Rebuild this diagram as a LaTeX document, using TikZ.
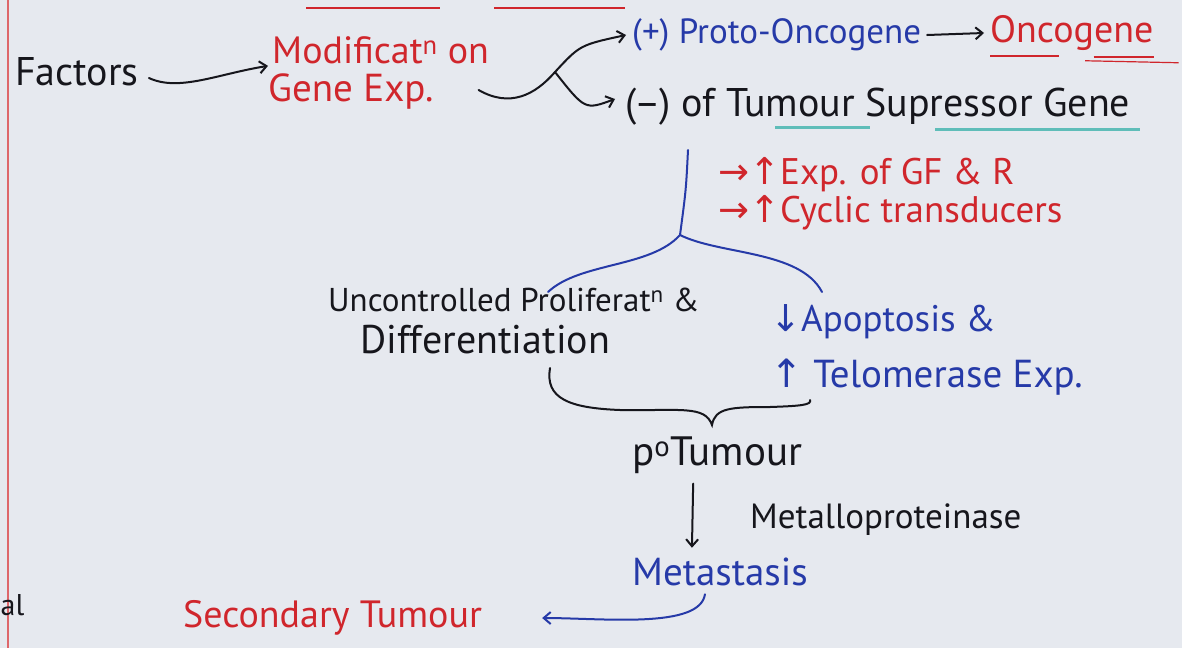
\documentclass[tikz,border=0pt]{standalone}
\usepackage{fontspec}
\setmainfont{PT Sans}
\newfontfamily\arrowfont{DejaVu Sans}
\usetikzlibrary{positioning,arrows.meta}

\definecolor{board}{RGB}{230,233,239}
\definecolor{penblue}{RGB}{38,58,168}
\definecolor{penred}{RGB}{208,38,44}
\definecolor{penblack}{RGB}{22,22,28}
\definecolor{penteal}{RGB}{62,178,172}

\tikzset{
  txt/.style={anchor=west, inner sep=0pt},
  fs/.style={font=\fontsize{#1}{#1}\selectfont},
  pen/.style={line width=2pt, line cap=round},
  tip/.style={-{Straight Barb[length=7pt,width=12pt]}},
}
\newcommand{\arr}[1]{{\arrowfont #1}}

\begin{document}
\begin{tikzpicture}[x=1pt,y=-1pt]

        % board and its edges
        \fill[board] (0,0) rectangle (1182,648);
        \useasboundingbox (0,0) rectangle (1182,648);
        \draw[penred!70, line width=1.5pt] (8,0) -- (8,648);
        \draw[penred, line width=1.5pt] (306,8) -- (440,8);
        \draw[penred, line width=1.5pt] (494,8) -- (625,8);

        % texts
        \node[txt, penblack, fs=40] (factors) at (15,72) {Factors};
        \node[txt, penred, fs=38] (modif) at (272,50) {Modificat\textsuperscript{n} on};
        \node[txt, penred, fs=39] (geneexp) at (268,92) {Gene Exp.};
        \node[txt, penblue, fs=35] (proto) at (632,35) {(+) Proto-Oncogene};
        \node[txt, penred, fs=38] (onco) at (990,33) {Oncogene};
        \node[txt, penblack, fs=40] (tsg) at (625,107) {(–) of Tumour Supressor Gene};
        \node[txt, penred, fs=37] (gfr) at (718,175) {\arr{→↑}Exp. of GF \& R};
        \node[txt, penred, fs=37] (cyclic) at (718,213) {\arr{→↑}Cyclic transducers};
        \node[txt, penblack, fs=33] (prolif) at (328,300) {Uncontrolled Proliferat\textsuperscript{n} \&};
        \node[txt, penblack, fs=40] (diff) at (360,340) {Differentiation};
        \node[txt, penblue, fs=37] (apop) at (770,322) {\arr{↓}Apoptosis \&};
        \node[txt, penblue, fs=39] (telo) at (770,377) {\arr{↑} Telomerase Exp.};
        \node[txt, penblack, fs=41] (ptum) at (632,455) {p\textsuperscript{o}Tumour};
        \node[txt, penblack, fs=35] (metallo) at (750,520) {Metalloproteinase};
        \node[txt, penblue, fs=39] (metas) at (632,572) {Metastasis};
        \node[txt, penred, fs=38] (sect) at (183,618) {Secondary Tumour};
        \node[txt, penblack, fs=30] (al) at (0.5,605) {al};

        % underlines
        \draw[penred, line width=2pt] ([yshift=-5pt]onco.south west) -- ([yshift=-5pt,xshift=-95pt]onco.south east);
        \draw[penred, line width=2pt] ([yshift=-6pt,xshift=-60pt]onco.south east) -- ([yshift=-6pt]onco.south east);
        \draw[penred, line width=1.2pt] ([yshift=-10pt,xshift=95pt]onco.south west) -- ([yshift=-12pt,xshift=25pt]onco.south east);
        \draw[penteal, line width=3pt, opacity=.8] (775,127) -- (870,127);
        \draw[penteal, line width=3pt, opacity=.8] (935,129) -- (1140,129);

        % connectors
        \coordinate (fork) at (555,72);
        \coordinate (stem) at (688,150);
        \coordinate (split) at (680,235);
        \coordinate (bl) at (550,368);
        \coordinate (bm) at (712,425);
        \coordinate (br) at (810,400);

        \draw[pen, penblack, tip] ([xshift=10pt,yshift=-6pt]factors.east)
            .. controls +(30,14) and +(-50,8) .. ([xshift=-4pt,yshift=-2pt]modif.south west);
        \draw[pen, penblack] ([xshift=45pt,yshift=2pt]geneexp.east)
            .. controls (510,108) and (535,95) .. (fork);
        \draw[pen, penblack, tip] (fork) .. controls (580,45) .. ([xshift=-6pt]proto.west);
        \draw[pen, penblack, tip] (fork) .. controls (585,110) .. ([xshift=-10pt,yshift=8pt]tsg.west);
        \draw[pen, penblack, tip] ([xshift=6pt]proto.east) -- ([xshift=-6pt]onco.west);

        \begin{scope}[pen, penblue]
            \draw (stem) .. controls (686,190) .. (split);
            \draw (split) .. controls (650,268) and (580,262) .. (548,292);
            \draw (split) .. controls (720,255) and (800,250) .. (822,292);
        \end{scope}

        \draw[pen, penblack] (bl) .. controls (545,398) and (568,408) .. (620,410)
            .. controls (680,411) and (705,405) .. (bm)
            .. controls (715,408) and (730,407) .. (770,407)
            .. controls (800,406) and (812,405) .. (br);

        \draw[pen, penblack, tip] ([xshift=-24pt,yshift=-10pt]ptum.south)
            -- ([xshift=-28pt,yshift=10pt]metas.north);
        \draw[pen, penblue, tip] ([xshift=-15pt,yshift=-8pt]metas.south)
            .. controls +(-5,35) and +(60,0) .. ([xshift=60pt]sect.east);

\end{tikzpicture}
\end{document}
